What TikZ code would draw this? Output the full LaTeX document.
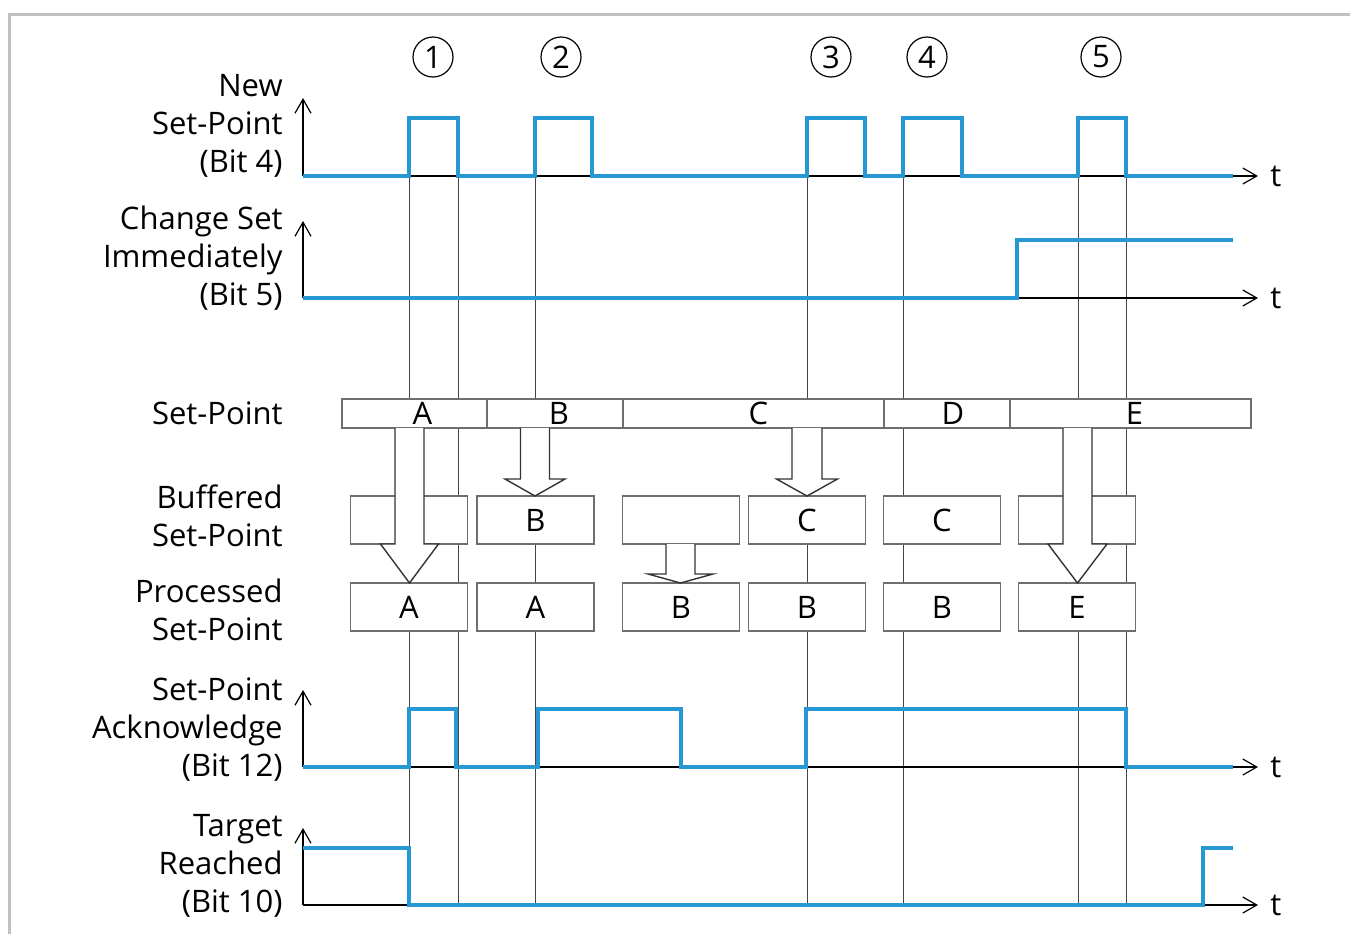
\documentclass[tikz,border=0pt]{standalone}
\usepackage{fontspec}
\setmainfont{Open Sans}
\usetikzlibrary{arrows.meta}
\definecolor{sigblue}{RGB}{38,152,212}
\definecolor{boxgray}{RGB}{110,110,110}
\definecolor{gridgray}{RGB}{70,70,70}
\definecolor{framegray}{RGB}{192,192,192}
\newcommand{\blockarr}[6]{% x, top, neck, tip, half shaft, half head
  \filldraw[blk] (#1-#5,#2) -- (#1-#5,#3) -- (#1-#6,#3) -- (#1,#4)
    -- (#1+#6,#3) -- (#1+#5,#3) -- (#1+#5,#2);}

\begin{document}
\begin{tikzpicture}[x=0.5pt,y=-0.5pt,
lbl/.style={anchor=east,align=right,inner sep=0pt,font=\fontsize{15.5}{19}\selectfont},
num/.style={draw,circle,minimum size=20pt,inner sep=0pt,line width=0.6pt,font=\fontsize{15.5}{18}\selectfont},
seg/.style={draw=boxgray,fill=white,line width=0.7pt,minimum height=14.5pt,inner sep=0pt,font=\fontsize{15.5}{18}\selectfont},
reg/.style={draw=boxgray,fill=white,line width=0.7pt,minimum width=58.5pt,minimum height=24pt,inner sep=0pt,font=\fontsize{15.5}{18}\selectfont},
tlbl/.style={anchor=west,inner sep=0pt,font=\fontsize{15.5}{18}\selectfont},
axis/.style={-{Straight Barb[length=7pt,width=8pt]},line width=0.6pt},
sig/.style={sigblue,line width=2pt},
gridline/.style={gridgray,line width=0.5pt},
blk/.style={draw=black!80,fill=white,line width=0.7pt}
]
\useasboundingbox (0,0) rectangle (1350,934);
\draw[framegray,line width=1.5pt] (9,934) -- (9,14) -- (1350,14);

\node[num] (n1) at (433,57) {1};
\node[num] (n2) at (561,57) {2};
\node[num] (n3) at (831,57) {3};
\node[num] (n4) at (927,57) {4};
\node[num] (n5) at (1101,57) {5};

\node[lbl] (newsp) at (283,126) {New\\Set-Point\\(Bit 4)};
\node[lbl] (chgimm) at (283,258) {Change Set\\Immediately\\(Bit 5)};
\node[lbl] (setpt) at (283,413) {Set-Point};
\node[lbl] (buffsp) at (283,516) {Buffered\\Set-Point};
\node[lbl] (procsp) at (283,610) {Processed\\Set-Point};
\node[lbl] (ackn) at (283,730) {Set-Point\\Acknowledge\\(Bit 12)};
\node[lbl] (tgtr) at (283,866) {Target\\Reached\\(Bit 10)};

\foreach \x in {409,458,535,807,903,1078,1126}
  \draw[gridline] (\x,176) -- (\x,905);

\foreach \y/\n in {176/a,298/b,767/c,905/d}{
  \coordinate (o\n) at (303,\y);
  \node[tlbl] (t\n) at (1270,\y) {t};
  \draw[axis,shorten >=6pt] (o\n) -- (t\n.west);
}
\draw[axis] (oa) -- ++(0,-78);
\draw[axis] (ob) -- ++(0,-77);
\draw[axis] (oc) -- ++(0,-77);
\draw[axis] (od) -- ++(0,-77);

\draw[sig] (oa) -- (409,176) -- (409,118) -- (458,118) -- (458,176) -- (535,176) -- (535,118)
  -- (592,118) -- (592,176) -- (807,176) -- (807,118) -- (865,118) -- (865,176) -- (903,176)
  -- (903,118) -- (962,118) -- (962,176) -- (1078,176) -- (1078,118) -- (1126,118)
  -- (1126,176) -- (1233,176);
\draw[sig] (ob) -- (1017,298) -- (1017,240) -- (1233,240);
\draw[sig] (oc) -- (409,767) -- (409,709) -- (456,709) -- (456,767) -- (538,767) -- (538,709)
  -- (681,709) -- (681,767) -- (806,767) -- (806,709) -- (1126,709) -- (1126,767) -- (1233,767);
\draw[sig] (303,848) -- (409,848) -- (409,905) -- (1203,905) -- (1203,848) -- (1233,848);

\node[seg,minimum width=72.5pt] (spA) at (414.5,413.5) {\hspace{8pt}A};
\node[seg,minimum width=68pt] (spB) at (555,413.5) {\hspace{4pt}B};
\node[seg,minimum width=130.5pt] (spC) at (753.5,413.5) {\hspace{5pt}C};
\node[seg,minimum width=63pt] (spD) at (947,413.5) {\hspace{6pt}D};
\node[seg,minimum width=120.5pt] (spE) at (1130.5,413.5) {\hspace{4pt}E};

\node[reg] (bf1) at (409,520) {};
\node[reg] (bf2) at (535.5,520) {B};
\node[reg] (bf3) at (681,520) {};
\node[reg] (bf4) at (807,520) {C};
\node[reg] (bf5) at (942,520) {C};
\node[reg] (bf6) at (1077,520) {};

\node[reg] (pr1) at (409,607) {A};
\node[reg] (pr2) at (535.5,607) {A};
\node[reg] (pr3) at (681,607) {B};
\node[reg] (pr4) at (807,607) {B};
\node[reg] (pr5) at (942,607) {B};
\node[reg] (pr6) at (1077,607) {E};

\blockarr{409.5}{428}{544}{583}{14.5}{29}
\blockarr{535}{428}{479}{496}{14.5}{30}
\blockarr{680.5}{544}{574}{583}{14.5}{32.5}
\blockarr{807}{428}{479}{496}{15}{30.5}
\blockarr{1077.5}{428}{544}{583}{14.5}{29.5}
\end{tikzpicture}
\end{document}
